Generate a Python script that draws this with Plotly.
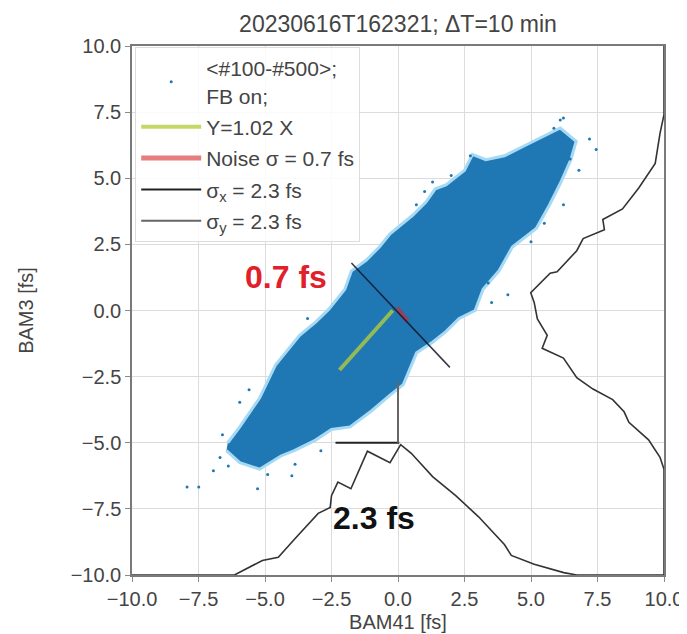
import plotly.graph_objects as go

# ---------------- data ----------------
title_text = "20230616T162321; ΔT=10 min"
x_label = "BAM41 [fs]"
y_label = "BAM3 [fs]"

# outline of the dense scatter cloud (BAM41, BAM3)
cloud_x = [-6.4, -5.95, -5.2, -4.6, -3.7, -3.1, -2.6, -2.0, -1.75, -1.2, -0.7, -0.3,
           0.55, 1.05, 1.4, 1.8, 2.5, 2.8, 3.3, 4.0, 4.7, 5.5, 6.1, 6.7,
           6.5, 6.1, 5.7, 5.2, 4.3, 3.8, 3.2, 2.9, 2.3, 1.8, 1.3, 0.7, 0.45, 0.2,
           -0.3, -1.0, -1.8, -2.5, -3.1, -3.9, -4.4, -5.2, -5.95, -6.45]
cloud_y = [-5.0, -4.4, -3.3, -2.05, -0.94, -0.44, 0.05, 0.8, 1.5, 1.9, 2.4, 2.9,
           3.6, 4.1, 4.6, 4.75, 5.3, 5.9, 5.7, 5.85, 6.2, 6.6, 6.9, 6.4,
           5.7, 4.8, 4.0, 3.1, 2.4, 1.5, 0.8, 0.0, -0.3, -0.8, -1.2, -1.6, -2.2, -2.8,
           -3.2, -3.8, -4.4, -4.5, -4.9, -5.3, -5.5, -6.0, -5.75, -5.3]

# isolated points outside the dense cloud
pts_x = [-7.93, -7.49, -5.28, -6.69, -6.94, -6.38, -5.95, -3.87, -3.99,
         6.1, 6.22, 7.45, 7.2, 5.86, 6.47, 6.22, 4.13, 3.39, 3.52,
         0.69, 1.3, 2.72, -4.9, -2.9, 5.0, 6.8, -6.6, -5.6, -3.4, 1.0, 2.0, 5.5]
pts_y = [-6.67, -6.67, -6.74, -5.56, -6.06, -5.88, -3.47, -5.81, -6.25,
         7.2, 7.28, 6.09, 6.48, 6.89, 5.73, 4.0, 0.6, 1.04, 0.3,
         4.0, 4.86, 5.85, -6.2, -5.3, 2.6, 5.3, -4.7, -3.0, -0.3, 4.5, 5.1, 3.3]

# fit line  Y = 1.02 X (visible segment)
fit_x = [-2.2, -0.2]
fit_y = [-2.25, 0.0]

# noise sigma segment
noise_x = [-0.05, 0.35]
noise_y = [0.1, -0.4]

# perpendicular (noise direction) line
perp_x = [-1.75, 1.95]
perp_y = [1.8, -2.15]

# sigma markers
sigx_x = [-2.35, 0.05]
sigx_y = [-5.0, -5.0]
sigy_x = [0.0, 0.0]
sigy_y = [-5.0, -2.7]

# projected histogram of BAM41 (drawn from y=-10 upward)
hx_x = [-10, -6.15, -5.1, -4.5, -3.85, -3.0, -2.55, -2.5, -2.26, -1.77, -1.15, -0.3,
        0.1, 0.5, 1.3, 2.17, 3.03, 4.0, 4.26, 5.12, 6.23, 6.72, 10]
hx_y = [-10, -10, -9.45, -9.33, -8.6, -7.67, -7.45, -7.0, -6.49, -6.74, -5.32, -5.75,
        -5.07, -5.4, -6.28, -7.0, -7.8, -8.85, -9.26, -9.59, -9.91, -10, -10]

# projected histogram of BAM3 (drawn from x=10 leftward)
hy_x = [10, 10, 9.85, 9.67, 9.05, 8.44, 7.7, 7.76, 6.96, 6.72, 5.98, 5.72, 4.99, 5.12, 5.24,
        5.61, 5.42, 6.22, 6.72, 7.33, 8.07, 8.5, 8.68, 9.42, 9.85, 10, 10]
hy_y = [10, 7.4, 6.7, 5.56, 4.63, 3.84, 3.44, 3.05, 2.72, 2.26, 1.46, 1.41, 0.67, 0.3, -0.32,
        -0.94, -1.43, -1.8, -2.54, -2.97, -3.37, -3.83, -4.23, -4.89, -5.55, -6.0, -10]

legend_scatter = "&lt;#100-#500&gt;;<br>FB on;"
legend_fit = "Y=1.02 X"
legend_noise = "Noise σ = 0.7 fs"
legend_sx = "σ<sub>x</sub> = 2.3 fs"
legend_sy = "σ<sub>y</sub> = 2.3 fs"

noise_label = "0.7 fs"
noise_label_pos = (-4.2, 1.25)
sigma_label = "2.3 fs"
sigma_label_pos = (-0.9, -7.85)

# ---------------- figure ----------------
FONT = "Liberation Sans, Arial, sans-serif"
BLUE = "#1f77b4"
TXT = "#444444"

fig = go.Figure()

# dense cloud (no legend)
fig.add_trace(go.Scatter(x=cloud_x, y=cloud_y, mode="lines", fill="toself",
                         fillcolor=BLUE, line=dict(color="#a6daf4", width=3),
                         showlegend=False, hoverinfo="skip"))
# scatter points (legend entry)
fig.add_trace(go.Scatter(x=pts_x, y=pts_y, mode="markers", name=legend_scatter,
                         legendgroup="g1", marker=dict(color=BLUE, size=3)))
fig.add_trace(go.Scatter(x=fit_x, y=fit_y, mode="lines", name=legend_fit, legendgroup="g2",
                         line=dict(color="rgba(180,205,60,0.78)", width=4)))
fig.add_trace(go.Scatter(x=noise_x, y=noise_y, mode="lines", name=legend_noise, legendgroup="g3",
                         line=dict(color="rgba(214,39,40,0.6)", width=5)))
fig.add_trace(go.Scatter(x=sigx_x, y=sigx_y, mode="lines", name=legend_sx, legendgroup="g4",
                         line=dict(color="#222222", width=2)))
fig.add_trace(go.Scatter(x=sigy_x, y=sigy_y, mode="lines", name=legend_sy, legendgroup="g5",
                         line=dict(color="#666666", width=2)))
fig.add_trace(go.Scatter(x=perp_x, y=perp_y, mode="lines", showlegend=False,
                         line=dict(color="rgba(20,20,40,0.85)", width=1.5)))
fig.add_trace(go.Scatter(x=hx_x, y=hx_y, mode="lines", showlegend=False,
                         line=dict(color="#333333", width=1.6)))
fig.add_trace(go.Scatter(x=hy_x, y=hy_y, mode="lines", showlegend=False,
                         line=dict(color="#333333", width=1.6)))

fig.add_annotation(x=noise_label_pos[0], y=noise_label_pos[1], text="<b>" + noise_label + "</b>",
                   showarrow=False, font=dict(family=FONT, size=32, color="#e0202a"))
fig.add_annotation(x=sigma_label_pos[0], y=sigma_label_pos[1], text="<b>" + sigma_label + "</b>",
                   showarrow=False, font=dict(family=FONT, size=32, color="#111111"))

axis_common = dict(range=[-10, 10], tick0=-10, dtick=2.5, tickformat=".1f",
                   showgrid=True, gridcolor="#dcdcdc", gridwidth=1,
                   showline=True, linecolor="#7a7a7a", linewidth=1.5, mirror=True,
                   ticks="outside", ticklen=5, tickcolor="#8a8a8a",
                   zeroline=False, tickfont=dict(family=FONT, size=20, color=TXT))

fig.update_layout(
    width=687, height=634,
    margin=dict(l=124, r=21, t=38, b=56),
    paper_bgcolor="white", plot_bgcolor="white",
    font=dict(family=FONT, size=20, color=TXT),
    title=dict(text=title_text, x=0.5, xref="paper", xanchor="center",
               y=1 - 16 / 634, yanchor="middle", yref="container",
               font=dict(family=FONT, size=23, color=TXT)),
    xaxis=dict(axis_common, title=dict(text=x_label, standoff=6,
                                       font=dict(family=FONT, size=20, color=TXT))),
    yaxis=dict(axis_common, title=dict(text=y_label, standoff=32,
                                       font=dict(family=FONT, size=20, color=TXT))),
    legend=dict(x=0.006, y=0.998, xanchor="left", yanchor="top",
                bgcolor="rgba(255,255,255,0.85)", bordercolor="#dddddd", borderwidth=1,
                font=dict(family=FONT, size=21, color=TXT), itemwidth=60,
                traceorder="grouped", tracegroupgap=1),
)

fig.write_html("out.html")
